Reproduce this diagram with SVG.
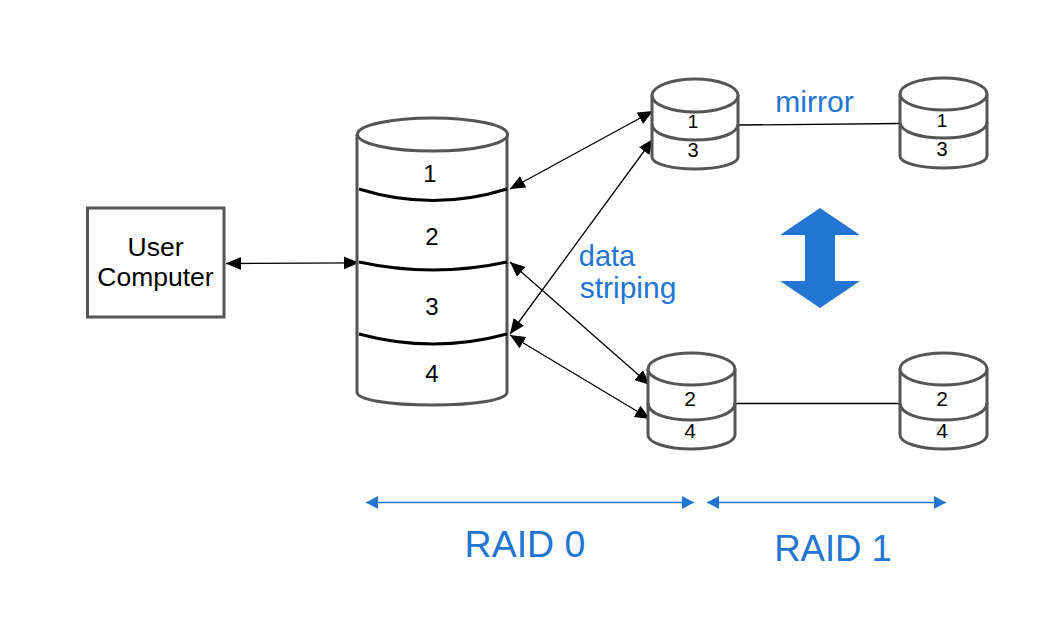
<svg xmlns="http://www.w3.org/2000/svg" width="1042" height="636" viewBox="0 0 1042 636">
<style>
text{font-family:"Liberation Sans",Arial,sans-serif;text-anchor:middle;fill:#000}
.blue{fill:#2275d0}
.c{fill:#fff;stroke:#555;stroke-width:3}
.sh{fill:none;stroke:#555;stroke-width:3}
.band{fill:none;stroke:#000;stroke-width:3}
.l{fill:none;stroke:#000;stroke-width:1.3}
.b{fill:none;stroke:#2275d0;stroke-width:1.5}
</style>
<defs>
<marker id="a" markerUnits="userSpaceOnUse" viewBox="0 0 15 13" refX="15" refY="6.500" markerWidth="15" markerHeight="13" orient="auto-start-reverse"><path d="M0 0L15 6.500L0 13z" fill="#000"/></marker>
<marker id="ab" markerUnits="userSpaceOnUse" viewBox="0 0 12 13" refX="12" refY="6.500" markerWidth="12" markerHeight="13" orient="auto-start-reverse"><path d="M0 0L12 6.500L0 13z" fill="#2275d0"/></marker>
</defs>
<rect width="1042" height="636" fill="#fff"/>
<g id="connectors">
<path class="l" d="M226 263.500L359 262.800" marker-start="url(#a)" marker-end="url(#a)"/>
<path class="l" d="M510 189L653 111" marker-start="url(#a)" marker-end="url(#a)"/>
<path class="l" d="M510 334L653 139" marker-start="url(#a)" marker-end="url(#a)"/>
<path class="l" d="M510 262L650 385" marker-start="url(#a)" marker-end="url(#a)"/>
<path class="l" d="M510 335L650 419" marker-start="url(#a)" marker-end="url(#a)"/>
<path class="l" d="M738 125L901 123.500"/>
<path class="l" d="M736 403.500L901 403.500"/>
<path class="b" d="M366 502.500L694 502.500" marker-start="url(#ab)" marker-end="url(#ab)"/>
<path class="b" d="M707 502.500L946 502.500" marker-start="url(#ab)" marker-end="url(#ab)"/>
</g>
<g id="user-computer">
<rect x="87.500" y="208" width="136.500" height="109" fill="#fff" stroke="#555" stroke-width="3"/>
<text x="155.500" y="256" font-size="26.500">User</text>
<text x="155.500" y="286" font-size="26.500">Computer</text>
</g>
<g id="raid0-volume">
<path class="c" d="M357 134V392C357 400 390 405 432.500 405S507 400 507 392V134"/>
<ellipse class="c" cx="432.500" cy="134.500" rx="75" ry="16.500"/>
<path class="band" d="M359 189Q433 212 507 189"/>
<path class="band" d="M359 262Q433 278 507 262"/>
<path class="band" d="M359 334Q433 354 507 334"/>
<text x="430" y="182" font-size="24">1</text>
<text x="432" y="245" font-size="24">2</text>
<text x="432" y="315" font-size="24">3</text>
<text x="432" y="382" font-size="24">4</text>
</g>
<g id="disk-1-3-a">
<path class="c" d="M652 95V157C652 164 672 169 695 169S738 164 738 157V95"/>
<ellipse class="c" cx="695" cy="95.500" rx="43" ry="16.500"/>
<path class="sh" d="M652 124C652 134 672 140 695 140S738 134 738 124"/>
<text x="693" y="128" font-size="19">1</text>
<text x="693" y="157" font-size="20">3</text>
</g>
<g id="disk-1-3-b">
<path class="c" d="M900 94V156C900 163 920 168 943.500 168S987 163 987 156V94"/>
<ellipse class="c" cx="943.500" cy="94" rx="43.500" ry="16"/>
<path class="sh" d="M900 122C900 132 920 138 943.500 138S987 132 987 122"/>
<text x="942" y="127" font-size="19">1</text>
<text x="942" y="156" font-size="20">3</text>
</g>
<g id="disk-2-4-a">
<path class="c" d="M648 369V435C648 443 668 449 691 449S735 443 735 435V369"/>
<ellipse class="c" cx="691.500" cy="369" rx="43.500" ry="16"/>
<path class="sh" d="M648 403C648 414 668 420 691 420S735 414 735 403"/>
<text x="690" y="405.500" font-size="21">2</text>
<text x="690" y="437.500" font-size="21">4</text>
</g>
<g id="disk-2-4-b">
<path class="c" d="M900 369V435C900 443 920 449 943.500 449S987 443 987 435V369"/>
<ellipse class="c" cx="943.500" cy="369" rx="43.500" ry="16"/>
<path class="sh" d="M900 403C900 414 920 420 943.500 420S987 414 987 403"/>
<text x="942" y="405.500" font-size="21">2</text>
<text x="942" y="437.500" font-size="21">4</text>
</g>
<g id="switch-arrow">
<path class="blue" d="M820 208L860 235H835V281H860L820 308L780 281H805V235H780z"/>
</g>
<g id="labels">
<text class="blue" x="814.500" y="112" font-size="30">mirror</text>
<text class="blue" x="607" y="266" font-size="29">data</text>
<text class="blue" x="628" y="298" font-size="30">striping</text>
<text class="blue" x="525" y="557" font-size="37.500">RAID 0</text>
<text class="blue" x="833" y="561" font-size="36.500">RAID 1</text>
</g>
</svg>
